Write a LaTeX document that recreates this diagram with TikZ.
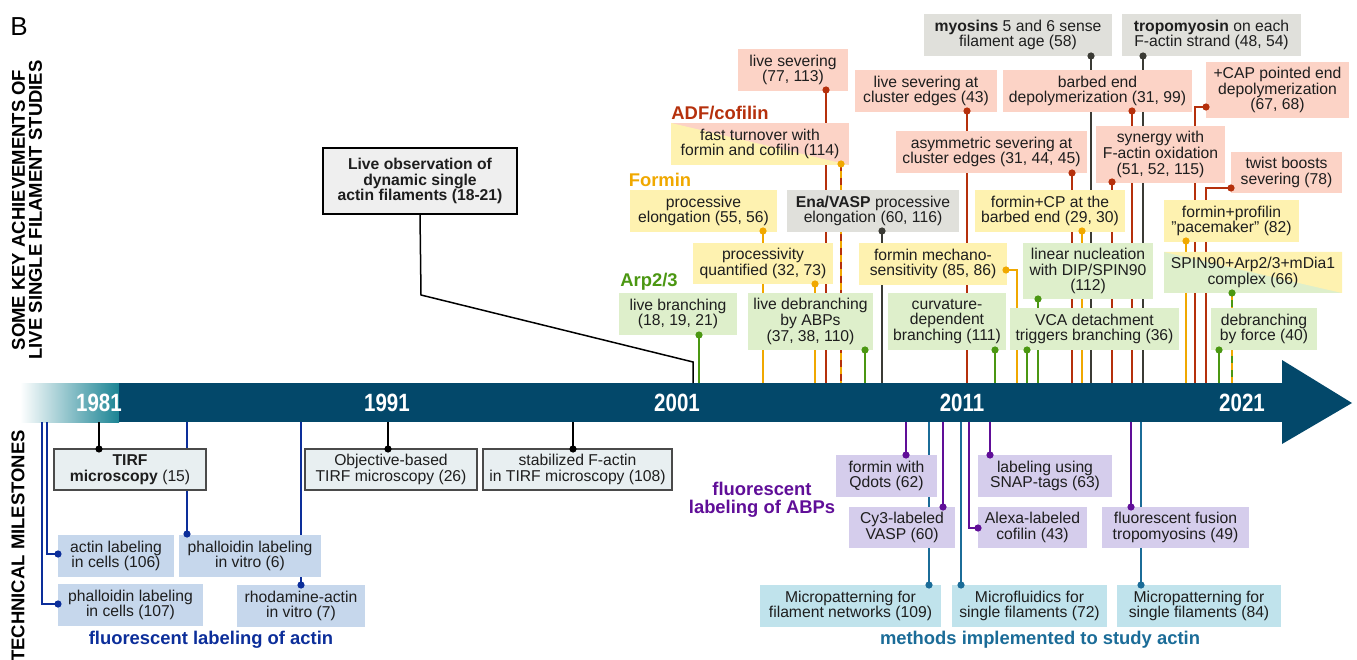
\documentclass[tikz,border=0pt]{standalone}
\usepackage{fontspec}
\setmainfont{Liberation Sans}
\usepackage{xcolor}
\definecolor{barColor}{HTML}{03486A}
\definecolor{barTeal}{HTML}{1B8494}
\definecolor{sevColor}{HTML}{B5300C}
\definecolor{sevFill}{HTML}{FCD3C6}
\definecolor{formColor}{HTML}{F0A800}
\definecolor{formFill}{HTML}{FEF2B0}
\definecolor{arpColor}{HTML}{4B9712}
\definecolor{arpFill}{HTML}{DEEFCB}
\definecolor{motorColor}{HTML}{3B3B35}
\definecolor{motorFill}{HTML}{E0E0DB}
\definecolor{actinColor}{HTML}{0C2E9A}
\definecolor{actinFill}{HTML}{C6D7EC}
\definecolor{abpColor}{HTML}{600E98}
\definecolor{abpFill}{HTML}{D5CDEC}
\definecolor{methodColor}{HTML}{1B6C98}
\definecolor{methodFill}{HTML}{C0E3EC}
\definecolor{tirfFill}{HTML}{E8EFF1}
\definecolor{tirfEdge}{HTML}{4A4A4A}
\definecolor{liveFill}{HTML}{EFEFEF}
\definecolor{textDark}{HTML}{1E1E1E}
\usepackage{tikz}
\usetikzlibrary{positioning,calc,arrows.meta}
\newcommand{\boxFont}{\fontsize{15.7}{15.8}\selectfont}
\newcommand{\tagFont}{\fontsize{18.4}{18}\selectfont\bfseries}
\newcommand{\yearFont}{\fontsize{25}{25}\selectfont\bfseries}
\tikzset{
  baseBox/.style={
    rectangle,
    inner sep=0pt,
    align=center,
    font=\boxFont,
    text=textDark
 },
  sevBox/.style={baseBox, fill=sevFill},
  forminBox/.style={baseBox, fill=formFill},
  arpBox/.style={baseBox, fill=arpFill},
  motorBox/.style={baseBox, fill=motorFill},
  actinBox/.style={baseBox, fill=actinFill},
  abpBox/.style={baseBox, fill=abpFill},
  methodBox/.style={baseBox, fill=methodFill},
  tirfBox/.style={baseBox, fill=tirfFill, draw=tirfEdge, line width=1.2pt},
  liveBox/.style={baseBox, fill=liveFill, draw=black, line width=1.5pt, font=\boxFont\bfseries},
  turnBox/.style={baseBox, fill=sevFill,
    path picture={
      \fill[formFill] (path picture bounding box.north west) -- (path picture bounding box.south west)
        -- (path picture bounding box.south east) -- cycle;}
 },
  spinBox/.style={baseBox, fill=arpFill,
    path picture={
      \fill[formFill] (path picture bounding box.north west) -- (path picture bounding box.north east)
        -- (path picture bounding box.south east) -- cycle;}
 },
  tagText/.style={font=\tagFont, inner sep=0pt},
  yearText/.style={font=\yearFont, text=white, inner sep=0pt},
  sideText/.style={font=\fontsize{18.5}{17}\selectfont\bfseries, rotate=90, align=center, inner sep=0pt},
  sevLine/.style={draw=sevColor, line width=1.8pt},
  formLine/.style={draw=formColor, line width=1.8pt},
  arpLine/.style={draw=arpColor, line width=1.8pt},
  motorLine/.style={draw=motorColor, line width=1.8pt},
  tirfLine/.style={draw=black, line width=1.8pt},
  actinLine/.style={draw=actinColor, line width=1.6pt},
  abpLine/.style={draw=abpColor, line width=1.6pt},
  methodLine/.style={draw=methodColor, line width=1.6pt},
  obsLine/.style={draw=black, line width=1.5pt}
}

\begin{document}
\begin{tikzpicture}[x=1pt, y=-1pt]
\useasboundingbox (0,0) rectangle (1357,660);

% side titles
\node[font=\fontsize{26}{26}\selectfont, inner sep=0pt] (panelTag) at (19,27) {B};
\node[sideText] (achLabel) at (27,210) {SOME KEY ACHIEVEMENTS OF\\LIVE SINGLE FILAMENT STUDIES};
\node[sideText] (techLabel) at (18,546) {TECHNICAL MILESTONES};

% timeline
\shade[left color=white, right color=barTeal] (20,383) rectangle (119,422);
\fill[barColor] (118.5,383) rectangle (1283,422);
\fill[barColor] (1282,360) -- (1352,403) -- (1282,444) -- cycle;
\coordinate (barTop) at (0,383);
\coordinate (barBot) at (0,422);
\node[yearText] (y1981) at (99,403) {\scalebox{0.82}[1]{1981}};
\node[yearText] (y1991) at (387,403) {\scalebox{0.82}[1]{1991}};
\node[yearText] (y2001) at (677,403) {\scalebox{0.82}[1]{2001}};
\node[yearText] (y2011) at (962,403) {\scalebox{0.82}[1]{2011}};
\node[yearText] (y2021) at (1242,403) {\scalebox{0.82}[1]{2021}};

% dot positions
\coordinate (liveSevDot) at (826,90);
\coordinate (turnDot) at (841,164);
\coordinate (procElDot) at (763,231);
\coordinate (enaDot) at (882,231);
\coordinate (quantDot) at (815,284);
\coordinate (branchDot) at (699,335);
\coordinate (debrDot) at (865,350);
\coordinate (mechDot) at (1006,270);
\coordinate (curvDot) at (995,350);
\coordinate (clusterDot) at (967,111);
\coordinate (asymDot) at (1072,173);
\coordinate (myoDot) at (1091,56);
\coordinate (tropoDot) at (1143,56);
\coordinate (barbDot) at (1132,111);
\coordinate (capDot) at (1206,107);
\coordinate (synDot) at (1112,182);
\coordinate (twistDot) at (1231,188);
\coordinate (cpDot) at (1082,231);
\coordinate (nucDot) at (1038,299);
\coordinate (vcaDot) at (1027,350);
\coordinate (paceDot) at (1186,241);
\coordinate (spinDot) at (1232,293);
\coordinate (forceDot) at (1219,350);
\coordinate (tirfDot) at (99,449);
\coordinate (objDot) at (388,449);
\coordinate (stabDot) at (573,449);
\coordinate (actCellDot) at (58,554);
\coordinate (phCellDot) at (58,604);
\coordinate (phVitroDot) at (187,534);
\coordinate (rhodDot) at (301,585);
\coordinate (qdotDot) at (906,455);
\coordinate (cy3Dot) at (943,507);
\coordinate (alexaDot) at (978,528);
\coordinate (snapDot) at (990,455);
\coordinate (fusionDot) at (1131,507);
\coordinate (netDot) at (929,585);
\coordinate (fluidDot) at (961,585);
\coordinate (singleDot) at (1141,585);

% connectors to the timeline (behind the boxes)
\foreach \d in {liveSevDot, clusterDot, asymDot, barbDot, synDot}
  \draw[sevLine] (\d) -- (\d |- barTop);
\draw[sevLine] (capDot) -| (1195,0 |- barTop);
\draw[sevLine] (twistDot) -| (1206,0 |- barTop);
\foreach \d in {procElDot, quantDot, cpDot, paceDot}
  \draw[formLine] (\d) -- (\d |- barTop);
\draw[formLine] (mechDot) -| (1017,0 |- barTop);
\foreach \d in {branchDot, debrDot, curvDot, nucDot, vcaDot, forceDot}
  \draw[arpLine] (\d) -- (\d |- barTop);
\foreach \d in {enaDot, myoDot, tropoDot}
  \draw[motorLine] (\d) -- (\d |- barTop);
\draw[formLine] (turnDot) -- (turnDot |- barTop);
\draw[sevLine, dash pattern=on 7pt off 7pt] (turnDot) -- (turnDot |- barTop);
\draw[arpLine] (spinDot) -- (spinDot |- barTop);
\draw[formLine, dash pattern=on 7pt off 7pt] (spinDot) -- (spinDot |- barTop);

\foreach \d in {tirfDot, objDot, stabDot}
  \draw[tirfLine] (\d |- barBot) -- (\d);
\draw[actinLine] (47,0 |- barBot) |- (actCellDot);
\draw[actinLine] (42,0 |- barBot) |- (phCellDot);
\foreach \d in {phVitroDot, rhodDot}
  \draw[actinLine] (\d |- barBot) -- (\d);
\foreach \d in {qdotDot, cy3Dot, snapDot, fusionDot}
  \draw[abpLine] (\d |- barBot) -- (\d);
\draw[abpLine] (969,0 |- barBot) |- (alexaDot);
\foreach \d in {netDot, fluidDot, singleDot}
  \draw[methodLine] (\d |- barBot) -- (\d);

% key achievements
\node[liveBox, minimum width=194pt, minimum height=66pt] (liveObs) at (420,181) {Live observation of\\dynamic single\\actin filaments (18-21)};
\draw[obsLine] (liveObs.south) -- (421,295) -- (693,362) -- (693,0 |- barTop);

\node[tagText, text=sevColor] (adfTag) at (720,113) {ADF/cofilin};
\node[sevBox, minimum width=110pt, minimum height=42pt] (liveSev) at (793,70) {live severing\\(77, 113)};
\node[turnBox, minimum width=178pt, minimum height=42pt] (turnover) at (760,144) {fast turnover with\\formin and cofilin (114)};
\node[sevBox, minimum width=142pt, minimum height=42pt] (clusterSev) at (926,91) {live severing at\\cluster edges (43)};
\node[sevBox, minimum width=191pt, minimum height=42pt] (asymSev) at (991.5,152) {asymmetric severing at\\cluster edges (31, 44, 45)};
\node[sevBox, minimum width=189pt, minimum height=42pt] (barbDepol) at (1097.5,91) {barbed end\\depolymerization (31, 99)};
\node[sevBox, minimum width=143pt, minimum height=56pt] (capDepol) at (1277.5,90) {+CAP pointed end\\depolymerization\\(67, 68)};
\node[sevBox, minimum width=129pt, minimum height=57pt] (synergy) at (1160.5,154.5) {synergy with\\F-actin oxidation\\(51, 52, 115)};
\node[sevBox, minimum width=111pt, minimum height=41pt] (twist) at (1286.5,172.5) {twist boosts\\severing (78)};

\node[motorBox, minimum width=188pt, minimum height=42pt] (myosins) at (1018,35) {\textbf{myosins} 5 and 6 sense\\filament age (58)};
\node[motorBox, minimum width=179pt, minimum height=42pt] (tropo) at (1211.5,35) {\textbf{tropomyosin} on each\\F-actin strand (48, 54)};
\node[motorBox, minimum width=172pt, minimum height=42pt] (enaVasp) at (873,211) {\textbf{Ena/VASP} processive\\elongation (60, 116)};

\node[tagText, text=formColor] (forminTag) at (660,180) {Formin};
\node[forminBox, minimum width=147pt, minimum height=42pt] (procEl) at (703.5,211) {processive\\elongation (55, 56)};
\node[forminBox, minimum width=140pt, minimum height=41pt] (procQuant) at (763,263.5) {processivity\\quantified (32, 73)};
\node[forminBox, minimum width=148pt, minimum height=42pt] (mechano) at (933,264) {formin mechano-\\sensitivity (85, 86)};
\node[forminBox, minimum width=150pt, minimum height=42pt] (forminCP) at (1050,211) {formin+CP at the\\barbed end (29, 30)};
\node[forminBox, minimum width=135pt, minimum height=42pt] (pacemaker) at (1231.5,221) {formin+profilin\\\char34 pacemaker\char34\ (82)};

\node[tagText, text=arpColor] (arpTag) at (649,282) {Arp2/3};
\node[arpBox, minimum width=118pt, minimum height=42pt] (liveBranch) at (678,314) {live branching\\(18, 19, 21)};
\node[arpBox, minimum width=125pt, minimum height=57pt] (debrABP) at (810.5,321.5) {live debranching\\by ABPs\\(37, 38, 110)};
\node[arpBox, minimum width=118pt, minimum height=57pt] (curvBranch) at (947,321.5) {curvature-\\dependent\\branching (111)};
\node[arpBox, minimum width=130pt, minimum height=56pt] (linNuc) at (1088,271) {linear nucleation\\with DIP/SPIN90\\(112)};
\node[arpBox, minimum width=169pt, minimum height=42pt] (vcaDetach) at (1094.5,329) {VCA detachment\\triggers branching (36)};
\node[spinBox, minimum width=178pt, minimum height=41pt] (spinComplex) at (1253,272.5) {SPIN90+Arp2/3+mDia1\\complex (66)};
\node[arpBox, minimum width=106pt, minimum height=42pt] (debrForce) at (1264,329) {debranching\\by force (40)};

% technical milestones
\node[tirfBox, minimum width=152pt, minimum height=41pt] (tirf) at (130,469.5) {\textbf{TIRF}\\\textbf{microscopy} (15)};
\node[tirfBox, minimum width=172pt, minimum height=41pt] (objTirf) at (391,469.5) {Objective-based\\TIRF microscopy (26)};
\node[tirfBox, minimum width=189pt, minimum height=41pt] (stabTirf) at (577.5,469.5) {stabilized F-actin\\in TIRF microscopy (108)};

\node[actinBox, minimum width=116pt, minimum height=42pt] (actCells) at (116,556) {actin labeling\\in cells (106)};
\node[actinBox, minimum width=145pt, minimum height=42pt] (phCells) at (130.5,605) {phalloidin labeling\\in cells (107)};
\node[actinBox, minimum width=142pt, minimum height=42pt] (phVitro) at (250,556) {phalloidin labeling\\in vitro (6)};
\node[actinBox, minimum width=128pt, minimum height=42pt] (rhodVitro) at (301,606) {rhodamine-actin\\in vitro (7)};
\node[tagText, text=actinColor] (actinTag) at (211,640) {fluorescent labeling of actin};

\node[tagText, text=abpColor, align=center] (abpTag) at (762,500) {fluorescent\\labeling of ABPs};
\node[abpBox, minimum width=101pt, minimum height=42pt] (qdots) at (886.5,476) {formin with\\Qdots (62)};
\node[abpBox, minimum width=106pt, minimum height=41pt] (cy3) at (902,527.5) {Cy3-labeled\\VASP (60)};
\node[abpBox, minimum width=109pt, minimum height=41pt] (alexa) at (1032.5,527.5) {Alexa-labeled\\cofilin (43)};
\node[abpBox, minimum width=134pt, minimum height=42pt] (snap) at (1045,476) {labeling using\\SNAP-tags (63)};
\node[abpBox, minimum width=147pt, minimum height=41pt] (fusion) at (1175.5,527.5) {fluorescent fusion\\tropomyosins (49)};

\node[methodBox, minimum width=181pt, minimum height=42pt] (netPattern) at (850.5,606) {Micropatterning for\\filament networks (109)};
\node[methodBox, minimum width=155pt, minimum height=42pt] (fluidics) at (1029.5,606) {Microfluidics for\\single filaments (72)};
\node[methodBox, minimum width=164pt, minimum height=42pt] (singlePattern) at (1199,606) {Micropatterning for\\single filaments (84)};
\node[tagText, text=methodColor] (methodTag) at (1040,640) {methods implemented to study actin};

% dots
\foreach \d in {liveSevDot, clusterDot, asymDot, barbDot, synDot, capDot, twistDot}
  \fill[sevColor] (\d) circle (3.6pt);
\foreach \d in {turnDot, procElDot, quantDot, mechDot, cpDot, paceDot}
  \fill[formColor] (\d) circle (3.6pt);
\foreach \d in {branchDot, debrDot, curvDot, nucDot, vcaDot, spinDot, forceDot}
  \fill[arpColor] (\d) circle (3.6pt);
\foreach \d in {enaDot, myoDot, tropoDot}
  \fill[motorColor] (\d) circle (3.6pt);
\foreach \d in {tirfDot, objDot, stabDot}
  \fill[black] (\d) circle (3.6pt);
\foreach \d in {actCellDot, phCellDot, phVitroDot, rhodDot}
  \fill[actinColor] (\d) circle (3.6pt);
\foreach \d in {qdotDot, cy3Dot, alexaDot, snapDot, fusionDot}
  \fill[abpColor] (\d) circle (3.6pt);
\foreach \d in {netDot, fluidDot, singleDot}
  \fill[methodColor] (\d) circle (3.6pt);
\end{tikzpicture}
\end{document}
